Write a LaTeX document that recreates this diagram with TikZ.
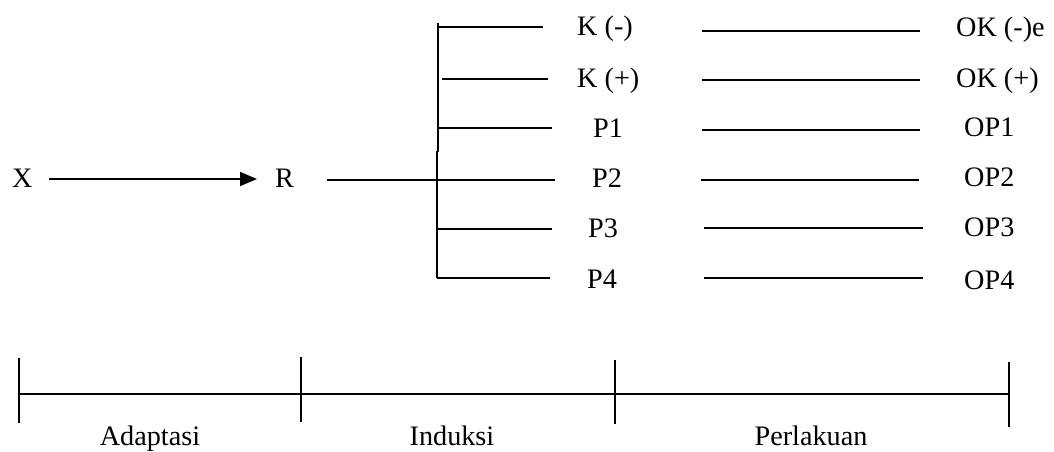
\documentclass[tikz,border=0pt]{standalone}
\usepackage{fontspec}
\setmainfont{Liberation Serif}
\usetikzlibrary{arrows.meta}
\begin{document}
\begin{tikzpicture}[x=1pt,y=-1pt,
  ln/.style={line width=1.7pt},
  lbl/.style={anchor=base west,inner sep=0pt,font=\fontsize{28.2}{34}\selectfont},
  clbl/.style={anchor=base,inner sep=0pt,font=\fontsize{28.2}{34}\selectfont}]
\useasboundingbox (0,0) rectangle (1054,452);
% start and result
\node[lbl] (X) at (12,187) {X};
\node[lbl] (R) at (275,187) {R};
\coordinate (xa) at (49,179);
\coordinate (ra) at (257,179);
\draw[ln,-{Triangle[length=17pt,width=14pt]}] (xa) -- (ra);
% bracket
\coordinate (vt) at (438,23);
\coordinate (vm1) at (438,152);
\coordinate (vm2) at (437,151);
\coordinate (vb) at (437,278);
\draw[ln] (vt) -- (vm1);
\draw[ln] (vm2) -- (vb);
% group labels
\node[lbl] (K1) at (577,36) {K (-)};
\node[lbl] (K2) at (577,88) {K (+)};
\node[lbl] (P1) at (593,137) {P1};
\node[lbl] (P2) at (592,187) {P2};
\node[lbl] (P3) at (588,237) {P3};
\node[lbl] (P4) at (587,288) {P4};
% branches
\coordinate (b1a) at (438,27);  \coordinate (b1b) at (543,27);
\coordinate (b2a) at (442,79);  \coordinate (b2b) at (548,79);
\coordinate (b3a) at (438,128); \coordinate (b3b) at (552,128);
\coordinate (b4a) at (327,180); \coordinate (b4b) at (555,180);
\coordinate (b5a) at (438,229); \coordinate (b5b) at (552,229);
\coordinate (b6a) at (437,278); \coordinate (b6b) at (550,278);
\foreach \i in {1,...,6} {\draw[ln] (b\i a) -- (b\i b);}
% right lines
\coordinate (c1a) at (702,31);  \coordinate (c1b) at (920,31);
\coordinate (c2a) at (702,80);  \coordinate (c2b) at (920,80);
\coordinate (c3a) at (702,130); \coordinate (c3b) at (920,130);
\coordinate (c4a) at (701,180); \coordinate (c4b) at (919,180);
\coordinate (c5a) at (704,228); \coordinate (c5b) at (923,228);
\coordinate (c6a) at (704,278); \coordinate (c6b) at (923,278);
\foreach \i in {1,...,6} {\draw[ln] (c\i a) -- (c\i b);}
% outcome labels
\node[lbl] (O1) at (956,37) {OK (-)e};
\node[lbl] (O2) at (956,87) {OK (+)};
\node[lbl] (O3) at (964,136) {OP1};
\node[lbl] (O4) at (964,186) {OP2};
\node[lbl] (O5) at (964,236) {OP3};
\node[lbl] (O6) at (964,289) {OP4};
% timeline
\coordinate (t0) at (19,394);
\coordinate (t3) at (1009,394);
\draw[ln] (t0) -- (t3);
\coordinate (k0a) at (19,358);   \coordinate (k0b) at (19,423);
\coordinate (k1a) at (301,357);  \coordinate (k1b) at (301,422);
\coordinate (k2a) at (615,360);  \coordinate (k2b) at (615,424);
\coordinate (k3a) at (1009,362); \coordinate (k3b) at (1009,427);
\foreach \i in {0,...,3} {\draw[ln] (k\i a) -- (k\i b);}
\node[clbl] (A) at (150,445) {Adaptasi};
\node[clbl] (I) at (452,445) {Induksi};
\node[clbl] (Pe) at (811,445) {Perlakuan};
\end{tikzpicture}
\end{document}
